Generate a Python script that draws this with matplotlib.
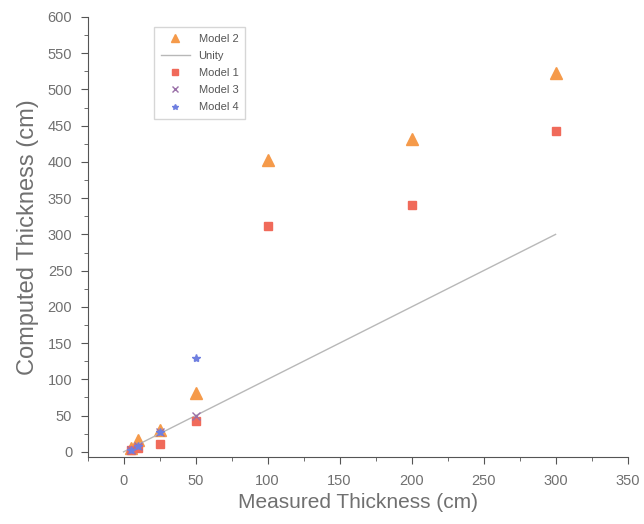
import matplotlib.pyplot as plt

plt.rcParams["font.family"] = ["Liberation Sans", "DejaVu Sans"]

measured = [5, 10, 25, 50, 100, 200, 300]
model_2 = [5, 17, 30, 81, 403, 432, 522]
model_1 = [2, 5, 11, 42, 311, 341, 442]

measured_small = [5, 10, 25, 50]
model_3 = [3, 8, 28, 50]
model_4 = [3, 8, 28, 130]

unity_x = [0, 300]
unity_y = [0, 300]

text_color = "#707070"
axis_color = "#555555"

fig = plt.figure(figsize=(6.44, 5.24), dpi=100)
ax = fig.add_axes([0.136, 0.128, 0.8385, 0.8397])

ax.plot(measured, model_2, linestyle="none", marker="^", markersize=8,
        color="#f59a4a", label="Model 2")
ax.plot(unity_x, unity_y, color="#b8b8b8", linewidth=1.0, label="Unity")
ax.plot(measured, model_1, linestyle="none", marker="s", markersize=6,
        color="#f06a5a", label="Model 1")
ax.plot(measured_small, model_3, linestyle="none", marker="x", markersize=6,
        color="#9a70a8", label="Model 3")
ax.plot(measured_small, model_4, linestyle="none", marker="*", markersize=6,
        color="#6f7fe0", label="Model 4")

ax.set_xlim(-25, 350)
ax.set_ylim(-7, 600)
ax.set_xticks(range(0, 351, 50))
ax.set_yticks(range(0, 601, 50))
ax.set_xticks(range(-25, 351, 25), minor=True)
ax.set_yticks(range(0, 601, 25), minor=True)

for side in ["top", "right"]:
    ax.spines[side].set_visible(False)
for side in ["left", "bottom"]:
    ax.spines[side].set_color(axis_color)

ax.tick_params(which="major", direction="out", length=5, color=axis_color,
               labelsize=10.5, labelcolor=text_color)
ax.tick_params(axis="x", which="major", pad=7)
ax.tick_params(axis="y", which="major", pad=6)
ax.tick_params(which="minor", direction="out", length=3, color=axis_color)

ax.set_xlabel("Measured Thickness (cm)", fontsize=15, color=text_color,
              labelpad=4)
ax.set_ylabel("Computed Thickness (cm)", fontsize=17, color=text_color,
              labelpad=6)

leg = ax.legend(loc="upper left", bbox_to_anchor=(0.113, 0.99), fontsize=8,
                frameon=True, fancybox=False, edgecolor="#cccccc",
                handlelength=2.6, labelspacing=0.65, borderpad=0.6,
                markerscale=0.7)
for text in leg.get_texts():
    text.set_color("#555555")

fig.savefig("out.png", dpi=100)
